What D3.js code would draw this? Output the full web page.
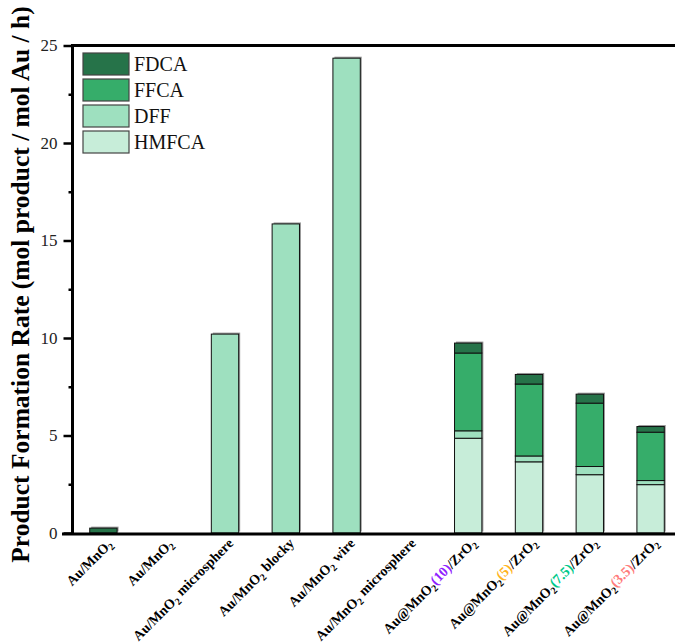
<!DOCTYPE html>
<html>
<head>
<meta charset="utf-8">
<script src="https://cdnjs.cloudflare.com/ajax/libs/d3/7.8.5/d3.min.js"></script>
<style>
  html, body { margin: 0; padding: 0; background: #fff; }
  svg { display: block; }
  text { font-family: "Liberation Serif", "Times New Roman", serif; }
</style>
</head>
<body>
<svg id="chart" width="675" height="644"></svg>
<script>
// Catalysts on the x axis; "_2" marks a subscript, "(n)" a coloured loading
const categories = [
  "Au/MnO_2",
  "Au/MnO_2 ",
  "Au/MnO_2 microsphere",
  "Au/MnO_2 blocky",
  "Au/MnO_2 wire",
  "Au/MnO_2 microsphere ",
  "Au@MnO_2(10)/ZrO_2",
  "Au@MnO_2(5)/ZrO_2",
  "Au@MnO_2(7.5)/ZrO_2",
  "Au@MnO_2(3.5)/ZrO_2"
];
const loadingColors = { "(10)": "#8f22ff", "(5)": "#ffb41e", "(7.5)": "#00c98a", "(3.5)": "#ff7b7b" };

// Formation rates, mol product / mol Au / h (stack order bottom to top)
const HMFCA = [0, 0, 0, 0, 0, 0, 4.86, 3.65, 2.99, 2.48];
const DFF   = [0, 0, 10.2, 15.85, 24.35, 0, 0.38, 0.30, 0.42, 0.21];
const FFCA  = [0, 0, 0, 0, 0, 0, 3.99, 3.69, 3.25, 2.48];
const FDCA  = [0.25, 0, 0, 0, 0, 0, 0.51, 0.49, 0.46, 0.29];

const seriesNames = ["HMFCA", "DFF", "FFCA", "FDCA"];
const seriesColors = { HMFCA: "#c7edd9", DFF: "#9ee0bf", FFCA: "#36ad6a", FDCA: "#267349" };
const yTicks = [0, 5, 10, 15, 20, 25];
const yMinorTicks = [2.5, 7.5, 12.5, 17.5, 22.5];

const rows = categories.map((c, i) => ({
  cat: c, HMFCA: HMFCA[i], DFF: DFF[i], FFCA: FFCA[i], FDCA: FDCA[i]
}));

const svg = d3.select("#chart");
const axisX = 72.5, plotTop = 45.5, plotBottom = 533, plotRight = 675;

const x = d3.scaleBand().domain(categories).range([73, 681]).paddingInner(0.55).paddingOuter(0.275);
const y = d3.scaleLinear().domain([0, 25]).range([plotBottom, plotTop]);

const stacked = d3.stack().keys(seriesNames)(rows);
const totalOf = r => seriesNames.reduce((s, k) => s + r[k], 0);

// faint shadow behind each stacked column
svg.append("g").selectAll("rect").data(rows.filter(r => totalOf(r) > 0))
  .join("rect")
  .attr("x", d => x(d.cat) + 1.5)
  .attr("y", d => y(totalOf(d)) - 1.5)
  .attr("width", x.bandwidth())
  .attr("height", d => plotBottom - y(totalOf(d)))
  .attr("fill", "#9a9a9a");

// stacked bars
svg.append("g").selectAll("g").data(stacked).join("g")
  .attr("fill", d => seriesColors[d.key])
  .selectAll("rect").data(d => d.filter(p => p[1] - p[0] > 0)).join("rect")
  .attr("x", d => x(d.data.cat))
  .attr("y", d => y(d[1]))
  .attr("width", x.bandwidth())
  .attr("height", d => y(d[0]) - y(d[1]))
  .attr("stroke", "#111")
  .attr("stroke-width", 1);

// y axis with major and minor ticks
const yAxis = d3.axisLeft(y).tickValues(yTicks).tickSize(9).tickPadding(6).tickFormat(d3.format("d"));
const gy = svg.append("g").attr("transform", `translate(${axisX},0)`).call(yAxis);
gy.select(".domain").remove();
gy.selectAll(".tick line").attr("stroke", "#000").attr("stroke-width", 2.5);
gy.selectAll(".tick text").attr("font-size", 17).attr("fill", "#222")
  .style("font-family", "'Liberation Serif', 'Times New Roman', serif");
const gyMinor = svg.append("g").attr("transform", `translate(${axisX},0)`)
  .call(d3.axisLeft(y).tickValues(yMinorTicks).tickSize(4).tickFormat(""));
gyMinor.select(".domain").remove();
gyMinor.selectAll(".tick line").attr("stroke", "#000").attr("stroke-width", 2.5);

// frame: left, top and bottom lines
svg.append("line").attr("x1", axisX).attr("x2", axisX).attr("y1", plotTop - 1.5).attr("y2", plotBottom + 1.5)
  .attr("stroke", "#000").attr("stroke-width", 3);
svg.append("line").attr("x1", axisX - 1.5).attr("x2", plotRight).attr("y1", plotTop).attr("y2", plotTop)
  .attr("stroke", "#000").attr("stroke-width", 3);
svg.append("line").attr("x1", 62).attr("x2", plotRight).attr("y1", plotBottom + 1).attr("y2", plotBottom + 1)
  .attr("stroke", "#000").attr("stroke-width", 3);

// x category labels, rotated
const xLabels = svg.append("g");
categories.forEach(cat => {
  const cx = x(cat) + x.bandwidth() / 2;
  const t = xLabels.append("text")
    .attr("transform", `translate(${cx + 10},${plotBottom + 12}) rotate(-45)`)
    .attr("text-anchor", "end")
    .attr("font-size", 14)
    .attr("font-weight", "bold")
    .attr("fill", "#000");
  const parts = cat.trim().split(/(_2|\([\d.]+\))/).filter(s => s.length);
  let shifted = false;
  parts.forEach(p => {
    if (p === "_2") {
      t.append("tspan").text("2").attr("font-size", 10).attr("dy", "0.3em");
      shifted = true;
    } else {
      const s = t.append("tspan").text(p);
      if (shifted) { s.attr("dy", "-0.3em"); shifted = false; }
      if (loadingColors[p]) s.attr("fill", loadingColors[p]);
    }
  });
});

// y axis title
svg.append("text")
  .attr("transform", `translate(29,${(566 + 3) / 2}) rotate(-90)`)
  .attr("text-anchor", "middle")
  .attr("font-size", 25.5)
  .attr("font-weight", "bold")
  .text("Product Formation Rate (mol product / mol Au / h)");

// legend, top series first
const legendOrder = ["FDCA", "FFCA", "DFF", "HMFCA"];
const lg = svg.append("g");
legendOrder.forEach((k, i) => {
  const yy = 53 + i * 26;
  lg.append("rect").attr("x", 83).attr("y", yy).attr("width", 46).attr("height", 22)
    .attr("fill", seriesColors[k]).attr("stroke", "#444").attr("stroke-width", 1.2);
  lg.append("text").attr("x", 134).attr("y", yy + 18).attr("font-size", 20).attr("fill", "#111").text(k);
});
</script>
</body>
</html>
